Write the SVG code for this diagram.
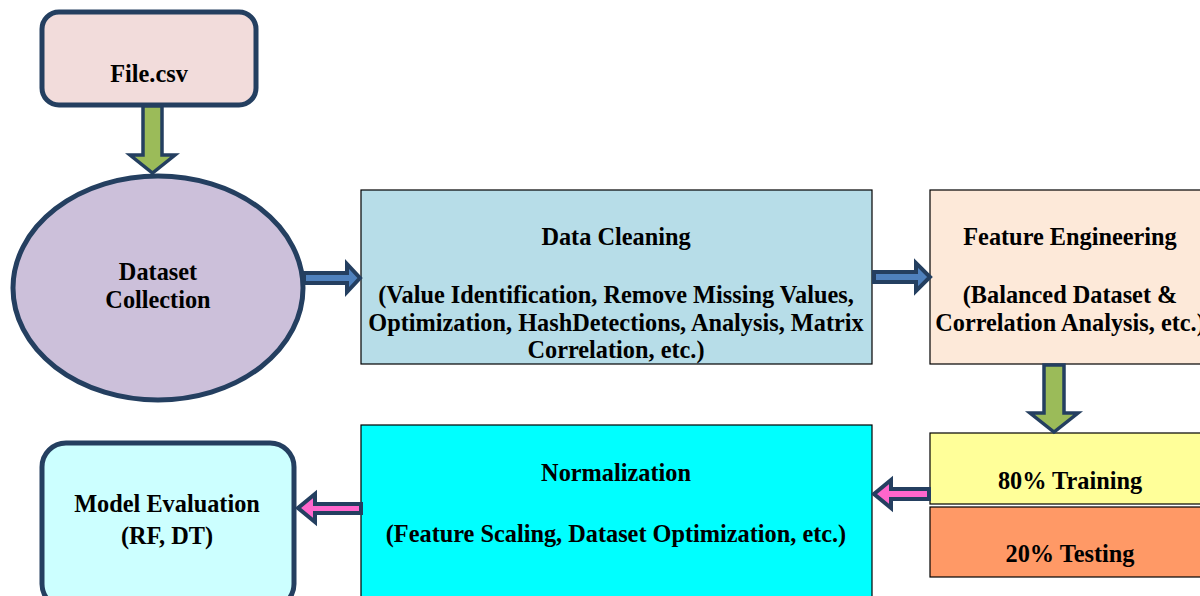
<svg xmlns="http://www.w3.org/2000/svg" width="1200" height="596" viewBox="0 0 1200 596">
<style>
text{font-family:"Liberation Serif","Times New Roman",serif;font-weight:bold;font-size:24.3px;fill:#000;text-anchor:middle}
.rnd{stroke:#243f60;stroke-width:5}
.sq{stroke:#000;stroke-width:1.2}
.ag{fill:#9bbb59;stroke:#243f60;stroke-width:3.5;stroke-linejoin:miter}
.ab{fill:#4f81bd;stroke:#243f60;stroke-width:4;stroke-linejoin:miter}
.ap{fill:#ff66cc;stroke:#243f60;stroke-width:4;stroke-linejoin:miter}
</style>
<rect width="1200" height="596" fill="#fff"/>
<g id="file">
<rect class="rnd" x="42" y="12" width="214" height="93" rx="17" fill="#f2dcdb"/>
<text x="149" y="82">File.csv</text>
</g>
<g id="dataset">
<ellipse class="rnd" cx="158" cy="288" rx="145" ry="112" fill="#ccc0da"/>
<text x="158" y="280">Dataset</text>
<text x="158" y="308">Collection</text>
</g>
<g id="cleaning">
<rect class="sq" x="361" y="190" width="511" height="174" fill="#b7dde8"/>
<text x="616" y="245">Data Cleaning</text>
<text x="616" y="303">(Value Identification, Remove Missing Values,</text>
<text x="616" y="331">Optimization, HashDetections, Analysis, Matrix</text>
<text x="616" y="358">Correlation, etc.)</text>
</g>
<g id="feature">
<rect class="sq" x="930" y="190" width="280" height="174" fill="#fde9d9"/>
<text x="1070" y="245">Feature Engineering</text>
<text x="1070" y="303">(Balanced Dataset &amp;</text>
<text x="1070" y="331">Correlation Analysis, etc.)</text>
</g>
<g id="training">
<rect class="sq" x="930" y="433" width="280" height="71" fill="#ffff99"/>
<text x="1070" y="489">80% Training</text>
</g>
<g id="testing">
<rect class="sq" x="930" y="507" width="280" height="70" fill="#ff9966"/>
<text x="1070" y="562">20% Testing</text>
</g>
<g id="normalization">
<rect class="sq" x="361" y="425" width="511" height="180" fill="#00ffff"/>
<text x="616" y="481">Normalization</text>
<text x="616" y="542">(Feature Scaling, Dataset Optimization, etc.)</text>
</g>
<g id="evaluation">
<rect class="rnd" x="42" y="443" width="252" height="165" rx="24" fill="#ccffff"/>
<text x="167" y="512">Model Evaluation</text>
<text x="167" y="544">(RF, DT)</text>
</g>
<g id="connectors">
<path class="ag" d="M143,106 L162,106 L162,155 L175,155 L152.5,173 L130,155 L143,155 Z"/>
<path class="ab" d="M304,273 L347,273 L347,264 L360,278 L347,292 L347,283 L304,283 Z"/>
<path class="ab" d="M874,272 L916,272 L916,263 L930,277 L916,291 L916,282 L874,282 Z"/>
<path class="ag" d="M1044,365 L1064,365 L1064,413 L1078,413 L1054,432 L1030,413 L1044,413 Z"/>
<path class="ap" d="M929,489 L891,489 L891,480 L874,494 L891,508 L891,499 L929,499 Z"/>
<path class="ap" d="M361,504 L315,504 L315,494 L298,508 L315,522 L315,513 L361,513 Z"/>
</g>
</svg>
